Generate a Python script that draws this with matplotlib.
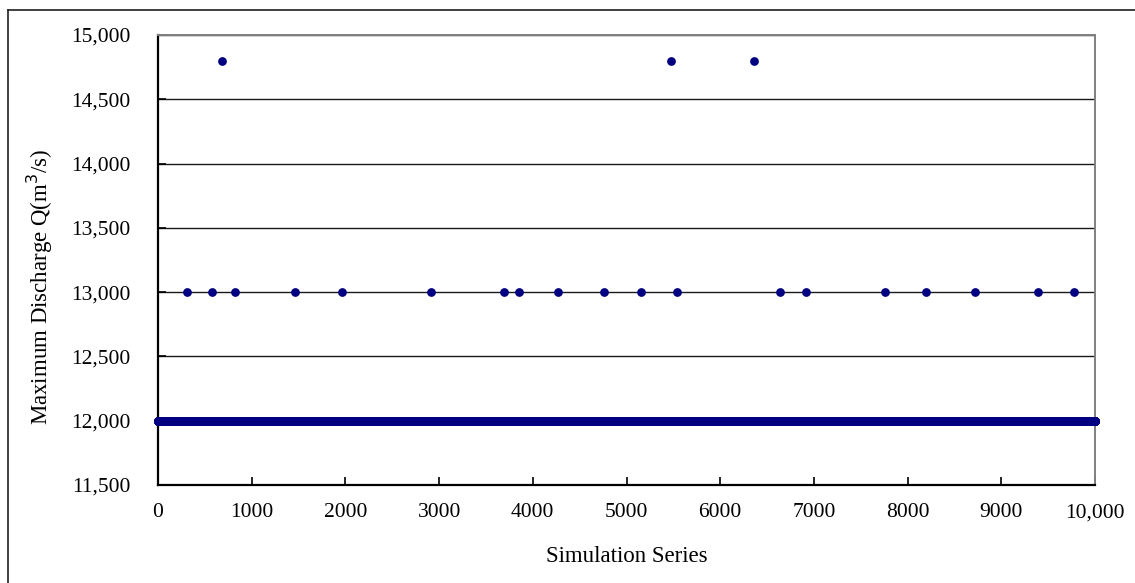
import matplotlib
matplotlib.use("Agg")
import matplotlib.pyplot as plt
from matplotlib.lines import Line2D
from matplotlib.ticker import FuncFormatter
import numpy as np

# ---- data ----
n_simulations = 10000
base_discharge = 12000
mid_discharge = 13000
high_discharge = 14800
mid_runs = [314, 581, 819, 1467, 1969, 2910, 3690, 3850, 4272, 4763, 5152,
            5539, 6637, 6912, 7762, 8196, 8716, 9388, 9772]
high_runs = [680, 5473, 6366]

x_ticks = [0, 1000, 2000, 3000, 4000, 5000, 6000, 7000, 8000, 9000, 10000]
x_labels = ["0", "1000", "2000", "3000", "4000", "5000", "6000", "7000",
            "8000", "9000", "10,000"]
y_ticks = [11500, 12000, 12500, 13000, 13500, 14000, 14500, 15000]

runs = np.arange(1, n_simulations + 1)
values = np.full(n_simulations, base_discharge, dtype=float)
for r in mid_runs:
    values[r - 1] = mid_discharge
for r in high_runs:
    values[r - 1] = high_discharge

plt.rcParams['font.family'] = ['Liberation Serif', 'DejaVu Serif']

fig = plt.figure(figsize=(11.35, 5.83), dpi=100)
ax = fig.add_axes([158/1135, 1-485/583, (1095-158)/1135, (485-35)/583])

navy = "#000080"
ax.plot(runs, values, linestyle="none", marker="o", markersize=6.3,
        color=navy, markeredgewidth=0, zorder=3, clip_on=False)

ax.set_xlim(0, 10000)
ax.set_ylim(11500, 15000)
ax.set_xticks(x_ticks)
ax.set_xticklabels(x_labels)
ax.set_yticks(y_ticks)
ax.yaxis.set_major_formatter(FuncFormatter(lambda v, p: f"{int(v):,}"))

ax.grid(axis="y", color="#1a1a1a", linewidth=1.0)
ax.set_axisbelow(True)

ax.tick_params(axis="both", direction="in", length=6, width=1.2,
               labelsize=15.5, colors="black")
ax.tick_params(axis="x", pad=13)
ax.tick_params(axis="y", pad=20)

for s in ["left", "bottom"]:
    ax.spines[s].set_color("black")
    ax.spines[s].set_linewidth(1.6)
for s in ["top", "right"]:
    ax.spines[s].set_color("#808080")
    ax.spines[s].set_linewidth(1.4)

ax.set_xlabel("Simulation Series", fontsize=16.5, va="center")
ax.xaxis.set_label_coords(0.5, (485 - 557) / 450)
ax.set_ylabel("Maximum Discharge Q(m$^3$/s)", fontsize=16.5, va="center")
ax.yaxis.set_label_coords((40 - 158) / 937, (485 - 287) / 450)

# outer chart frame (top and left edges visible)
fig.add_artist(Line2D([8/1135, 8/1135], [0, 1-10/583], transform=fig.transFigure,
                      color="#202020", linewidth=1.2))
fig.add_artist(Line2D([8/1135, 1], [1-10/583, 1-10/583], transform=fig.transFigure,
                      color="#202020", linewidth=1.2))

fig.savefig("out.png", dpi=100)
